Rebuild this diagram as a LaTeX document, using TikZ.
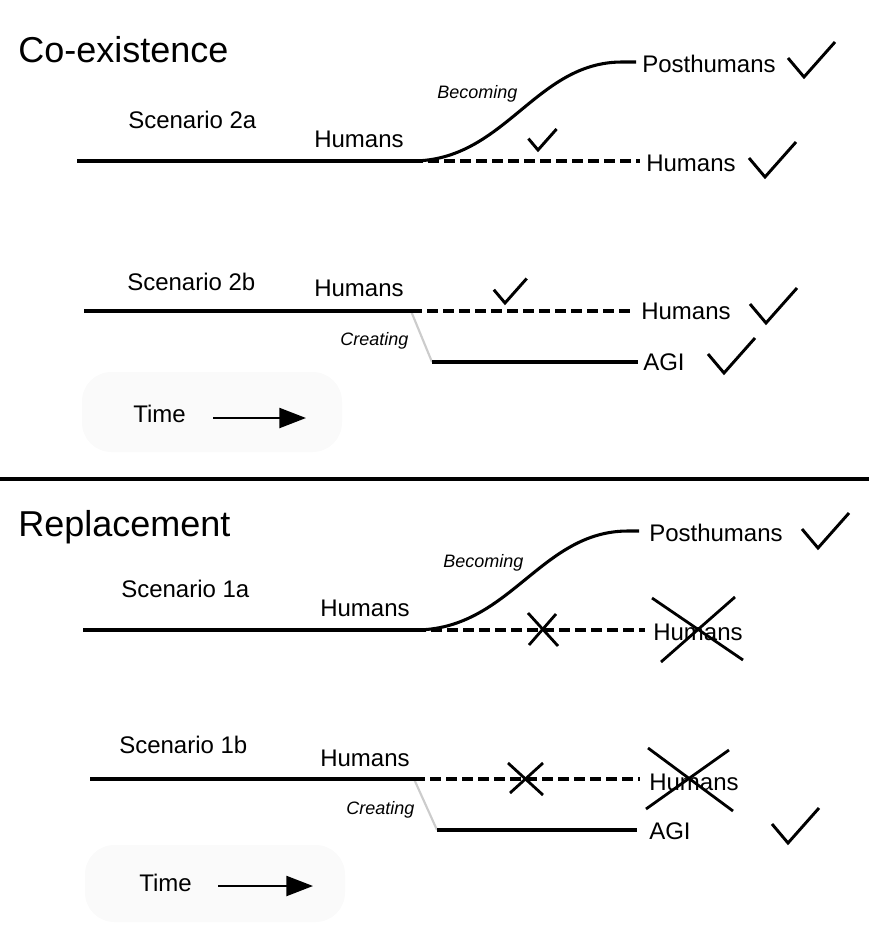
\documentclass[tikz,border=0pt]{standalone}
\usepackage{fontspec}
\setmainfont{Liberation Sans}
\usetikzlibrary{arrows.meta}
\begin{document}
\begin{tikzpicture}[x=0.75pt,y=-0.75pt,
  title/.style={anchor=base west,inner sep=0pt,font=\fontsize{27}{30}\selectfont},
  lbl/.style={anchor=base west,inner sep=0pt,font=\fontsize{18}{20}\selectfont},
  verb/.style={anchor=base west,inner sep=0pt,font=\fontsize{13.5}{15}\selectfont\itshape},
  timeline/.style={line width=2.3pt},
  future/.style={line width=2.3pt,dash pattern=on 8pt off 4pt},
  creating/.style={line width=1.6pt,color=black!20},
  tickline/.style={line width=2.2pt,line join=miter},
  crossline/.style={line width=2.1pt},
  timebox/.style={fill=black!2,draw=none,rounded corners=22pt},
  timearrow/.style={line width=1.7pt,-{Triangle[length=20pt,width=15pt]}},
  tick/.pic={\draw[tickline] (-16,-19) -- (0,0) -- (31,-35);}
]
\useasboundingbox (0,0) rectangle (869,947);

% ---------------- Co-existence ----------------
\node[title] (tco) at (18,62) {Co-existence};

% Scenario 2a
\node[lbl] (sc2a) at (128,128) {Scenario 2a};
\node[lbl] (h2a) at (314,147) {Humans};
\coordinate (s2a) at (77,161);
\coordinate (b2a) at (412,161);
\coordinate (d2a) at (640,161);
\coordinate (c2a) at (622,62);
\coordinate (e2a) at (636,62);
\draw[timeline] (s2a) -- (b2a);
\draw[future] (b2a) -- (d2a);
\draw[timeline] (b2a) .. controls (505,161) and (535,62) .. (c2a) -- (e2a);
\node[verb] (bec2a) at (437,98) {Becoming};
\node[lbl] (p2a) at (642,72) {Posthumans};
\node[lbl] (hr2a) at (646,171) {Humans};
\pic at (804,77) {tick};
\pic at (765,177) {tick};
\pic[scale=0.6] at (538,150) {tick};

% Scenario 2b
\node[lbl] (sc2b) at (127,290) {Scenario 2b};
\node[lbl] (h2b) at (314,296) {Humans};
\coordinate (s2b) at (84,311);
\coordinate (b2b) at (411,311);
\coordinate (d2b) at (633,311);
\coordinate (k2b) at (432,362);
\coordinate (a2b) at (638,362);
\draw[creating] (b2b) -- (k2b);
\draw[timeline] (s2b) -- (b2b);
\draw[future] (b2b) -- (d2b);
\draw[timeline] (k2b) -- (a2b);
\node[verb] (cr2b) at (340,345) {Creating};
\node[lbl] (hr2b) at (641,319) {Humans};
\node[lbl] (agi2b) at (643,370) {AGI};
\pic[scale=0.7] at (505,303) {tick};
\pic at (766,323) {tick};
\pic at (724,373) {tick};

% Time legend 1
\fill[timebox] (82,372) rectangle (342,452);
\node[lbl] (t1) at (133,422) {Time};
\coordinate (ta1) at (213,418);
\coordinate (tb1) at (306,418);
\draw[timearrow] (ta1) -- (tb1);

% divider
\coordinate (dl) at (0,479);
\coordinate (dr) at (869,479);
\draw[line width=2.4pt] (dl) -- (dr);

% ---------------- Replacement ----------------
\node[title] (trep) at (18,536) {Replacement};

% Scenario 1a
\node[lbl] (sc1a) at (121,597) {Scenario 1a};
\node[lbl] (h1a) at (320,616) {Humans};
\coordinate (s1a) at (83,630);
\coordinate (b1a) at (415,630);
\coordinate (d1a) at (645,630);
\coordinate (c1a) at (628,531);
\coordinate (e1a) at (639,531);
\draw[timeline] (s1a) -- (b1a);
\draw[future] (b1a) -- (d1a);
\draw[timeline] (b1a) .. controls (510,630) and (540,531) .. (c1a) -- (e1a);
\node[verb] (bec1a) at (443,567) {Becoming};
\node[lbl] (p1a) at (649,541) {Posthumans};
\node[lbl] (hr1a) at (653,640) {Humans};
\pic at (818,548) {tick};
\draw[crossline] (528,613) -- (558,646);
\draw[crossline] (529,645) -- (556,614);
\draw[crossline] (652,598) -- (743,660);
\draw[crossline] (661,662) -- (735,597);

% Scenario 1b
\node[lbl] (sc1b) at (119,753) {Scenario 1b};
\node[lbl] (h1b) at (320,766) {Humans};
\coordinate (s1b) at (90,779);
\coordinate (b1b) at (414,779);
\coordinate (d1b) at (640,779);
\coordinate (k1b) at (437,830);
\coordinate (a1b) at (637,830);
\draw[creating] (b1b) -- (k1b);
\draw[timeline] (s1b) -- (b1b);
\draw[future] (b1b) -- (d1b);
\draw[timeline] (k1b) -- (a1b);
\node[verb] (cr1b) at (346,814) {Creating};
\node[lbl] (hr1b) at (649,790) {Humans};
\node[lbl] (agi1b) at (649,839) {AGI};
\pic at (788,843) {tick};
\draw[crossline] (508,763) -- (543,795);
\draw[crossline] (510,793) -- (543,763);
\draw[crossline] (648,748) -- (733,811);
\draw[crossline] (646,809) -- (729,750);

% Time legend 2
\fill[timebox] (85,845) rectangle (345,922);
\node[lbl] (t2) at (139,891) {Time};
\coordinate (ta2) at (218,886);
\coordinate (tb2) at (313,886);
\draw[timearrow] (ta2) -- (tb2);
\end{tikzpicture}
\end{document}
